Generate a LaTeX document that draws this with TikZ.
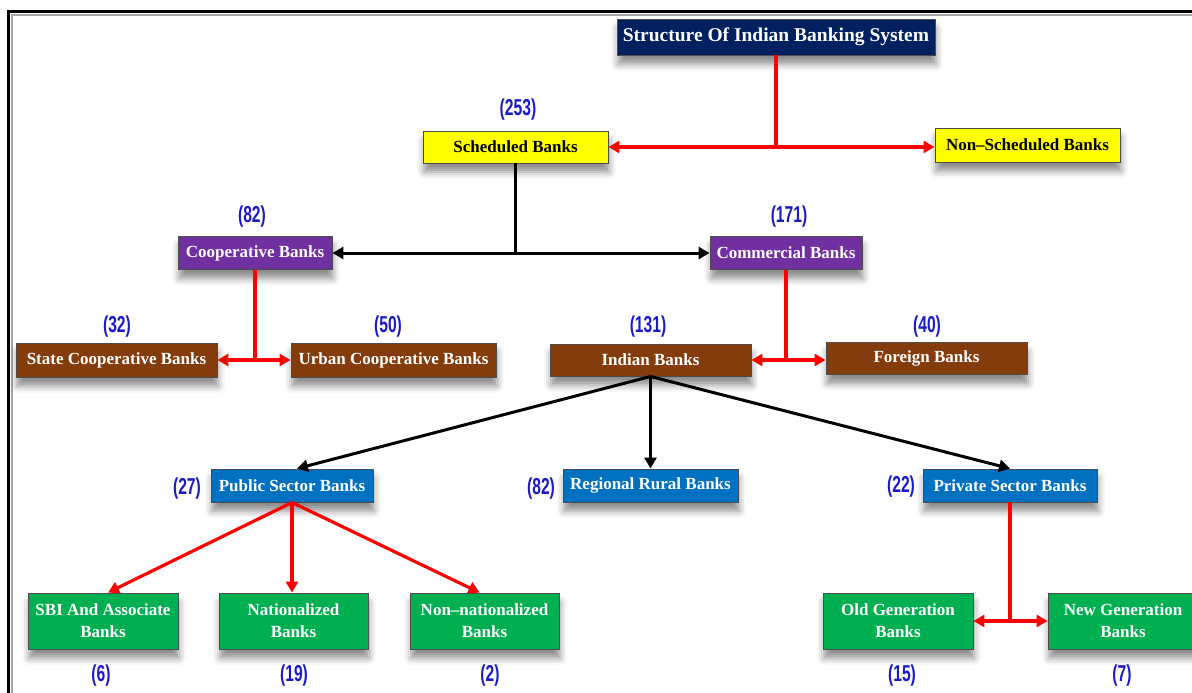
\documentclass[tikz,border=0pt]{standalone}
\usepackage{fontspec}
\setmainfont{Liberation Serif}
\newfontfamily\numfont{Liberation Sans}
\usetikzlibrary{arrows.meta,shadows.blur}
\definecolor{navybox}{HTML}{002060}
\definecolor{yelbox}{HTML}{FFFF00}
\definecolor{purbox}{HTML}{7030A0}
\definecolor{brnbox}{HTML}{843C0C}
\definecolor{blubox}{HTML}{0070C0}
\definecolor{grnbox}{HTML}{00B050}
\definecolor{numblue}{HTML}{1A1AC8}
\definecolor{redline}{HTML}{FF0000}
\newcommand{\cnt}[1]{\scalebox{0.68}[1]{#1}}
\tikzset{
  boxbase/.style={draw=black!70, line width=0.9pt, inner sep=0pt, align=center,
    font=\bfseries\fontsize{17}{22}\selectfont,
    blur shadow={shadow xshift=1pt, shadow yshift=-9pt, shadow blur radius=7pt, shadow opacity=45}},
  navyb/.style={boxbase, fill=navybox, text=white, font=\bfseries\fontsize{19.5}{22}\selectfont},
  yellowb/.style={boxbase, fill=yelbox, text=black},
  purpleb/.style={boxbase, fill=purbox, text=white},
  brownb/.style={boxbase, fill=brnbox, text=white},
  blueb/.style={boxbase, fill=blubox, text=white},
  greenb/.style={boxbase, fill=grnbox, text=white},
  numlab/.style={text=numblue, font=\numfont\bfseries\fontsize{23}{24}\selectfont, inner sep=0pt},
  redarr/.style={draw=redline, line width=3.2pt, -{Triangle[length=11pt,width=12pt]}},
  redboth/.style={draw=redline, line width=3.2pt, {Triangle[length=11pt,width=12pt]}-{Triangle[length=11pt,width=12pt]}},
  redln/.style={draw=redline, line width=3.2pt},
  blkarr/.style={draw=black, line width=3pt, -{Triangle[length=11pt,width=12pt]}},
  blkboth/.style={draw=black, line width=3pt, {Triangle[length=11pt,width=12pt]}-{Triangle[length=11pt,width=12pt]}},
  blkln/.style={draw=black, line width=3pt},
}
\begin{document}
\begin{tikzpicture}[x=1pt,y=-1pt]
\useasboundingbox (0,0) rectangle (1192,693);
% frame
\draw[black!35, line width=2pt] (1192,15) -- (12,15) -- (12,693);
\draw[black, line width=3pt] (1192,11.5) -- (8.5,11.5) -- (8.5,693);

% boxes
\node[navyb, minimum width=318pt, minimum height=36pt] (title) at (776,37) {Structure Of Indian Banking System};
\node[yellowb, minimum width=185pt, minimum height=32pt] (sched) at (515.5,147) {Scheduled Banks};
\node[yellowb, minimum width=185pt, minimum height=34pt] (nonsched) at (1027.5,145) {Non--Scheduled Banks};
\node[purpleb, minimum width=154pt, minimum height=33pt] (coop) at (255,253) {Cooperative Banks};
\node[purpleb, minimum width=152pt, minimum height=33pt] (comm) at (786,253) {Commercial Banks};
\node[brownb, minimum width=201pt, minimum height=34pt] (state) at (116.5,360) {State Cooperative Banks};
\node[brownb, minimum width=205pt, minimum height=34pt] (urban) at (393.5,360) {Urban Cooperative Banks};
\node[brownb, minimum width=201pt, minimum height=32pt] (indian) at (650.5,360) {Indian Banks};
\node[brownb, minimum width=201pt, minimum height=32pt] (foreign) at (926.5,358.5) {Foreign Banks};
\node[blueb, minimum width=162pt, minimum height=33pt] (public) at (292,485.5) {Public Sector Banks};
\node[blueb, minimum width=175pt, minimum height=33pt] (regional) at (650.5,485.5) {Regional Rural Banks};
\node[blueb, minimum width=174pt, minimum height=33pt] (private) at (1010,485.5) {Private Sector Banks};
\node[greenb, minimum width=150pt, minimum height=56pt] (sbi) at (103,621) {SBI And Associate\\Banks};
\node[greenb, minimum width=149pt, minimum height=56pt] (nat) at (293.5,621) {Nationalized\\Banks};
\node[greenb, minimum width=149pt, minimum height=56pt] (nonnat) at (484.5,621) {Non--nationalized\\Banks};
\node[greenb, minimum width=150pt, minimum height=56pt] (old) at (898,621) {Old Generation\\Banks};
\node[greenb, minimum width=150pt, minimum height=56pt] (new) at (1123,621) {New Generation\\Banks};

% counts
\node[numlab] (n253) at (518,110) {\cnt{(253)}};
\node[numlab] (n82a) at (252,217) {\cnt{(82)}};
\node[numlab] (n171) at (789,217) {\cnt{(171)}};
\node[numlab] (n32) at (117,327) {\cnt{(32)}};
\node[numlab] (n50) at (388,327) {\cnt{(50)}};
\node[numlab] (n131) at (648,327) {\cnt{(131)}};
\node[numlab] (n40) at (927,327) {\cnt{(40)}};
\node[numlab] (n27) at (187,489) {\cnt{(27)}};
\node[numlab] (n82b) at (541,489) {\cnt{(82)}};
\node[numlab] (n22) at (901,487) {\cnt{(22)}};
\node[numlab] (n6) at (101,676) {\cnt{(6)}};
\node[numlab] (n19) at (294,676) {\cnt{(19)}};
\node[numlab] (n2) at (490,676) {\cnt{(2)}};
\node[numlab] (n15) at (902,676) {\cnt{(15)}};
\node[numlab] (n7) at (1122,676) {\cnt{(7)}};

% connectors
\coordinate (j1) at (title.south |- sched.east);
\draw[redln] (title.south) -- (j1);
\draw[redboth] (sched.east) -- (nonsched.west |- sched.east);

\coordinate (j2) at (sched.south |- coop.east);
\draw[blkln] (sched.south) -- (j2);
\draw[blkboth] (coop.east) -- (comm.west);

\coordinate (j3) at (coop.south |- state.east);
\draw[redln] (coop.south) -- (j3);
\draw[redboth] (state.east) -- (urban.west);

\coordinate (j4) at (comm.south |- indian.east);
\draw[redln] (comm.south) -- (j4);
\draw[redboth] (indian.east) -- (foreign.west |- indian.east);

\draw[blkarr] (indian.south) -- ([xshift=5pt]public.north);
\draw[blkarr] (indian.south) -- (regional.north);
\draw[blkarr] (indian.south) -- (private.north);

\draw[redarr] (public.south) -- ([xshift=5pt]sbi.north);
\draw[redarr] (public.south) -- (nat.north -| public.south);
\draw[redarr] (public.south) -- ([xshift=-5pt]nonnat.north);

\coordinate (j5) at (private.south |- old.east);
\draw[redln] (private.south) -- (j5);
\draw[redboth] (old.east) -- (new.west);
\end{tikzpicture}
\end{document}
